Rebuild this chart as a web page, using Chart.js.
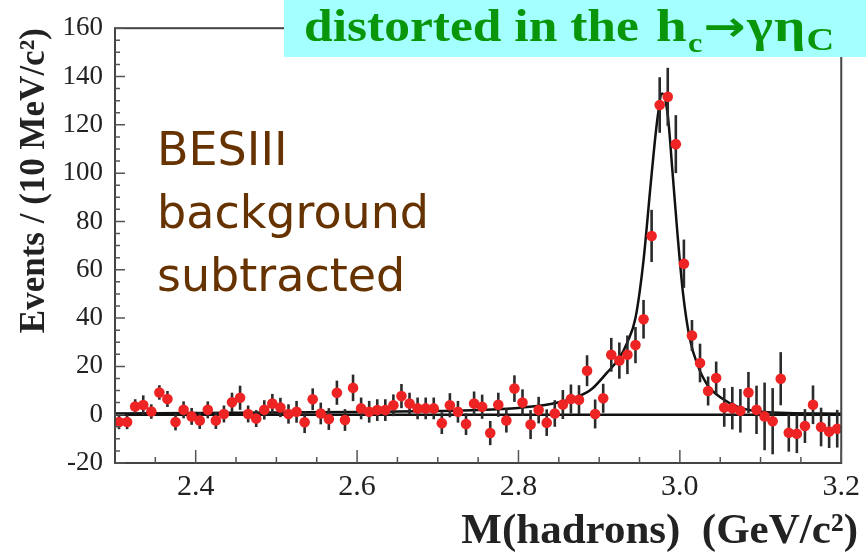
<!DOCTYPE html>
<html>
<head>
<meta charset="utf-8">
<title>hc to gamma etac - hadrons mass</title>
<script src="https://cdn.jsdelivr.net/npm/chart.js@4.4.0/dist/chart.umd.min.js"></script>
<style>
  html, body { margin: 0; padding: 0; background: #fff; }
  #wrap { position: relative; width: 866px; height: 555px; overflow: hidden; }
  #banner {
    position: absolute; left: 284px; top: 0; width: 582px; height: 57px;
    background: #a4ffff; color: #0a960a;
    font: bold 46px "Liberation Serif", "DejaVu Serif", serif; line-height: 52px; white-space: nowrap;
  }
  #banner .head { display: inline-block; position: absolute; left: 20px; top: 0; transform: scaleX(1.12); transform-origin: left center; }
  #banner .tail { display: inline-block; position: absolute; left: 372px; top: 0; letter-spacing: 1px; transform: scaleX(1.2); transform-origin: left center; }
  #banner .arrow { font-family: "DejaVu Sans", sans-serif; font-size: 42px; }
  #banner .s1 { font-size: 27px; position: relative; top: 11px; }
  #banner .s2 { font-size: 32px; position: relative; top: 9px; }
  #note {
    position: absolute; left: 157px; top: 118px; color: #663300;
    font: 46px "DejaVu Sans", sans-serif; line-height: 63px;
  }
</style>
</head>
<body>
<div id="wrap">
  <canvas id="chart" width="866" height="555"></canvas>
  <div id="banner"><span class="head">distorted in the</span> <span class="tail">h<span class="s1">c</span><span class="arrow">→</span>γη<span class="s2">C</span></span></div>
  <div id="note">BESIII<br>background<br>subtracted</div>
</div>
<script>
// bin centres, 10 MeV bins from 2.30 to 3.20 GeV
const binCenters = [
  2.305, 2.315, 2.325, 2.335, 2.345, 2.355, 2.365, 2.375, 2.385, 2.395,
  2.405, 2.415, 2.425, 2.435, 2.445, 2.455, 2.465, 2.475, 2.485, 2.495,
  2.505, 2.515, 2.525, 2.535, 2.545, 2.555, 2.565, 2.575, 2.585, 2.595,
  2.605, 2.615, 2.625, 2.635, 2.645, 2.655, 2.665, 2.675, 2.685, 2.695,
  2.705, 2.715, 2.725, 2.735, 2.745, 2.755, 2.765, 2.775, 2.785, 2.795,
  2.805, 2.815, 2.825, 2.835, 2.845, 2.855, 2.865, 2.875, 2.885, 2.895,
  2.905, 2.915, 2.925, 2.935, 2.945, 2.955, 2.965, 2.975, 2.985, 2.995,
  3.005, 3.015, 3.025, 3.035, 3.045, 3.055, 3.065, 3.075, 3.085, 3.095,
  3.105, 3.115, 3.125, 3.135, 3.145, 3.155, 3.165, 3.175, 3.185, 3.195
];

// background subtracted events per bin
const events = [
  -3, -3, 3.4, 4, 1.3, 9.2, 6.5, -3, 2, -0.7,
  -2.4, 2, -2.4, 0.3, 5.1, 7, 0.3, -1.6, 2, 4.6,
  3, 0.3, 1.2, -3.1, 6.4, 0.5, -1.8, 9.1, -2.2, 11.1,
  2.6, 1.2, 1.9, 1.9, 3.9, 7.7, 4.6, 2.6, 2.6, 2.6,
  -3.5, 3.9, 1.2, -3.9, 4.6, 3.3, -7.6, 4.1, -2.4, 10.8,
  5.0, -4.1, 1.9, -3.3, 0.5, 4.2, 6.5, 6.2, 18.2, 0.3,
  6.8, 24.8, 22.4, 24.8, 28.8, 39.5, 74, 128.2, 131.6, 112,
  62.5, 32.8, 21.4, 9.8, 15.2, 3.0, 2.7, 1.6, 9.2, 2.0,
  -0.7, -2.7, 14.9, -7.5, -7.9, -4.7, 4.1, -5.1, -7.0, -5.8
];

// error bar half-lengths
const errors = [
  3, 3, 3, 4, 3, 3, 3.3, 3.5, 3.5, 3.5,
  3.5, 3.5, 3.5, 3.5, 4, 5, 3.5, 3.5, 4, 4,
  4, 4, 4.5, 4.5, 4.5, 4.5, 4.5, 5, 4.5, 5.5,
  4.5, 4.5, 4.5, 4.5, 4.5, 5, 4.5, 4.5, 4.5, 4.5,
  4.5, 5, 4.5, 4.5, 5, 5, 5, 5, 5, 5.5,
  5.5, 6, 5.5, 5.5, 5.5, 6, 6, 6, 6.4, 6,
  6, 7, 7.5, 8, 7.5, 8, 10.8, 11.5, 12, 12,
  10, 6.4, 8, 6, 6.8, 8, 8.8, 9, 8.5, 10,
  14, 13.7, 11, 7.8, 8, 7, 8, 8, 6.8, 7.8
];

// fit curve
const fitMass = [
  2.30, 2.40, 2.50, 2.60, 2.70, 2.75, 2.80, 2.84, 2.87, 2.89,
  2.91, 2.925, 2.935, 2.945, 2.955, 2.964, 2.972, 2.978, 2.985, 2.991,
  2.997, 3.004, 3.012, 3.022, 3.034, 3.051, 3.072, 3.092, 3.133, 3.20
];
const fitEvents = [
  0.5, 0.7, 0.9, 1.1, 1.5, 1.9, 2.8, 4.4, 7.0, 10.4,
  17.5, 23.5, 30, 40, 64, 96, 122, 133, 124, 100,
  75, 50, 32, 20.5, 12.4, 7, 3.2, 1.5, 0.7, 0.4
];

const zeroMass = [2.3, 3.2];
const zeroEvents = [0, 0];

const xTickValues = [2.4, 2.6, 2.8, 3.0, 3.2];
const xMinorTicks = [2.35, 2.45, 2.5, 2.55, 2.65, 2.7, 2.75, 2.85, 2.9, 2.95, 3.05, 3.1, 3.15];
const yTickValues = [-20, 0, 20, 40, 60, 80, 100, 120, 140, 160];
const yMinorTicks = [-15, -10, -5, 5, 10, 15, 25, 30, 35, 45, 50, 55, 65, 70, 75, 85, 90, 95,
  105, 110, 115, 125, 130, 135, 145, 150, 155];

const xTitle = 'M(hadrons)  (GeV/c²)';
const yTitle = 'Events / (10 MeV/c²)';

const SERIF = "'Liberation Serif', 'DejaVu Serif', serif";

// vertical error bars, drawn just before the points
const errorBars = {
  id: 'errorBars',
  beforeDatasetDraw(chart, args) {
    if (args.index !== 0) return;
    const x = chart.scales.x, y = chart.scales.y, ctx = chart.ctx;
    ctx.save();
    ctx.strokeStyle = '#2a2a2a';
    ctx.lineWidth = 2.6;
    binCenters.forEach(function(m, i) {
      const px = x.getPixelForValue(m);
      ctx.beginPath();
      ctx.moveTo(px, y.getPixelForValue(events[i] - errors[i]));
      ctx.lineTo(px, y.getPixelForValue(events[i] + errors[i]));
      ctx.stroke();
    });
    ctx.restore();
  }
};

// frame, inward tick marks and the x title (right aligned past the plot edge)
const frame = {
  id: 'frame',
  afterDraw(chart) {
    const a = chart.chartArea, x = chart.scales.x, y = chart.scales.y, ctx = chart.ctx;
    ctx.save();
    ctx.strokeStyle = '#444';
    ctx.lineWidth = 2;
    ctx.strokeRect(a.left, a.top, a.right - a.left, a.bottom - a.top);
    ctx.lineWidth = 1.5;
    ctx.strokeStyle = '#555';
    ctx.beginPath();
    xTickValues.forEach(function(v) {
      const px = x.getPixelForValue(v);
      ctx.moveTo(px, a.bottom); ctx.lineTo(px, a.bottom - 13);
    });
    xMinorTicks.forEach(function(v) {
      const px = x.getPixelForValue(v);
      ctx.moveTo(px, a.bottom); ctx.lineTo(px, a.bottom - 6);
    });
    yTickValues.forEach(function(v) {
      const py = y.getPixelForValue(v);
      ctx.moveTo(a.left, py); ctx.lineTo(a.left + 10, py);
    });
    yMinorTicks.forEach(function(v) {
      const py = y.getPixelForValue(v);
      ctx.moveTo(a.left, py); ctx.lineTo(a.left + 5, py);
    });
    ctx.stroke();

    ctx.fillStyle = '#222';
    ctx.font = 'bold 43px ' + SERIF;
    ctx.textAlign = 'right';
    ctx.textBaseline = 'alphabetic';
    ctx.fillText(xTitle, 858, 543);
    ctx.restore();
  }
};

const ctx = document.getElementById('chart');
new Chart(ctx.getContext('2d'), {
  type: 'scatter',
  data: {
    datasets: [
      {
        label: 'data',
        data: binCenters.map(function(m, i) { return { x: m, y: events[i] }; }),
        backgroundColor: '#ee2424',
        borderColor: '#ee2424',
        pointRadius: 5.3,
        borderWidth: 0,
        order: 0
      },
      {
        type: 'line',
        label: 'fit',
        data: fitMass.map(function(m, i) { return { x: m, y: fitEvents[i] }; }),
        borderColor: '#111',
        borderWidth: 2.5,
        pointRadius: 0,
        cubicInterpolationMode: 'monotone',
        fill: false,
        order: 1
      },
      {
        type: 'line',
        label: 'zero',
        data: zeroMass.map(function(m, i) { return { x: m, y: zeroEvents[i] }; }),
        borderColor: '#111',
        borderWidth: 2.5,
        pointRadius: 0,
        fill: false,
        order: 2
      }
    ]
  },
  options: {
    responsive: false,
    animation: false,
    devicePixelRatio: 1,
    layout: { padding: { left: 0, right: 23, top: 20, bottom: 0 } },
    plugins: { legend: { display: false }, tooltip: { enabled: false } },
    scales: {
      x: {
        type: 'linear',
        min: 2.3,
        max: 3.2,
        afterBuildTicks: function(s) { s.ticks = xTickValues.map(function(v) { return { value: v }; }); },
        afterFit: function(s) { s.height = 92; },
        grid: { display: false, drawTicks: false },
        border: { display: false },
        ticks: {
          padding: 6,
          color: '#222',
          autoSkip: false,
          maxRotation: 0,
          font: { family: SERIF, size: 30 },
          callback: function(v) { return Number(v).toFixed(1); }
        },
        title: { display: false }
      },
      y: {
        type: 'linear',
        min: -20,
        max: 160,
        afterBuildTicks: function(s) { s.ticks = yTickValues.map(function(v) { return { value: v }; }); },
        afterFit: function(s) { s.width = 115; },
        grid: { display: false, drawTicks: false },
        border: { display: false },
        ticks: {
          padding: 12,
          color: '#222',
          autoSkip: false,
          font: { family: SERIF, size: 27 }
        },
        title: {
          display: true,
          text: yTitle,
          align: 'end',
          color: '#222',
          font: { family: SERIF, size: 35, weight: 'bold' },
          padding: { top: 14, bottom: 0 }
        }
      }
    }
  },
  plugins: [errorBars, frame]
});
</script>
</body>
</html>
